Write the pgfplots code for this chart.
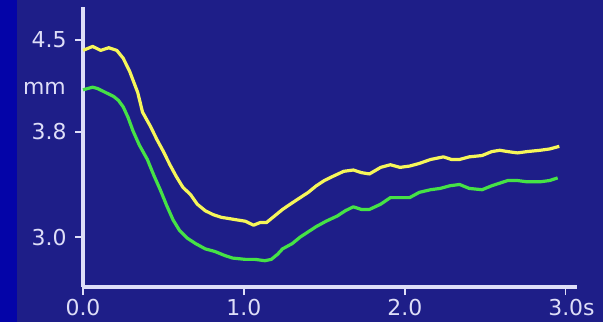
\documentclass[border=0pt]{standalone}
\usepackage{fontspec}
\setmainfont{DejaVu Sans}
\usepackage{pgfplots}
\pgfplotsset{compat=1.18}
\usepackage{pgfplotstable}

\definecolor{bgnavy}{RGB}{30,30,136}
\definecolor{stripblue}{RGB}{4,4,168}
\definecolor{axiswhite}{RGB}{222,222,248}
\definecolor{traceyellow}{RGB}{246,246,90}
\definecolor{tracegreen}{RGB}{70,226,70}

% time (s) and diameter (mm)
\pgfplotstableread{
t     d
0.00  4.42
0.06  4.45
0.11  4.42
0.16  4.44
0.21  4.42
0.25  4.36
0.29  4.26
0.34  4.10
0.37  3.95
0.42  3.84
0.46  3.74
0.50  3.65
0.54  3.55
0.58  3.46
0.62  3.38
0.67  3.32
0.71  3.25
0.76  3.20
0.81  3.17
0.86  3.15
0.91  3.14
0.96  3.13
1.01  3.12
1.06  3.09
1.10  3.11
1.14  3.11
1.19  3.16
1.24  3.21
1.30  3.26
1.35  3.30
1.40  3.34
1.45  3.39
1.50  3.43
1.55  3.46
1.62  3.50
1.68  3.51
1.73  3.49
1.78  3.48
1.85  3.53
1.91  3.55
1.97  3.53
2.03  3.54
2.09  3.56
2.16  3.59
2.24  3.61
2.29  3.59
2.34  3.59
2.40  3.61
2.48  3.62
2.54  3.65
2.59  3.66
2.64  3.65
2.70  3.64
2.76  3.65
2.84  3.66
2.90  3.67
2.96  3.69
}\uppertrace

\pgfplotstableread{
t     d
0.00  4.12
0.06  4.14
0.09  4.13
0.14  4.10
0.19  4.07
0.22  4.04
0.25  3.99
0.28  3.91
0.31  3.81
0.35  3.70
0.40  3.59
0.44  3.47
0.48  3.36
0.52  3.24
0.56  3.13
0.60  3.05
0.65  2.99
0.70  2.95
0.76  2.91
0.82  2.89
0.88  2.86
0.93  2.84
1.01  2.83
1.07  2.83
1.13  2.82
1.17  2.83
1.21  2.87
1.24  2.91
1.30  2.95
1.35  3.00
1.40  3.04
1.45  3.08
1.51  3.12
1.58  3.16
1.63  3.20
1.68  3.23
1.73  3.21
1.78  3.21
1.85  3.25
1.91  3.30
1.97  3.30
2.03  3.30
2.09  3.34
2.16  3.36
2.22  3.37
2.28  3.39
2.34  3.40
2.40  3.37
2.48  3.36
2.54  3.39
2.59  3.41
2.64  3.43
2.70  3.43
2.76  3.42
2.84  3.42
2.90  3.43
2.95  3.45
}\lowertrace

\begin{document}
\begin{tikzpicture}
% backdrop
\fill[bgnavy] (0,0) rectangle (603bp,322bp);
\fill[stripblue] (0,0) rectangle (17bp,322bp);
\begin{axis}[
  at={(83bp,35bp)}, anchor=south west,
  scale only axis, width=494bp, height=280bp,
  xmin=0, xmax=3.07, ymin=2.62, ymax=4.75,
  clip=false,
  axis x line=bottom, axis y line=left,
  axis line style={draw=axiswhite, line width=3.4bp, -},
  xtick style={draw=axiswhite, line width=1.4bp},
  xtick align=outside, major tick length=8bp,
  xtick={0,1,2,3}, xticklabels={0.0,1.0,2.0,{3.0\rlap{s}}},
  ytick={3.0,3.8,4.5}, yticklabels={3.0,3.8,4.5},
  ytick style={draw=none},
  /pgf/number format/assume math mode=true,
  ticklabel style={font=\fontsize{22}{24}\selectfont, text=axiswhite},
  yticklabel style={xshift=-9bp},
  xticklabel style={yshift=-1bp},
]
\addplot[traceyellow, line width=3.2bp, line join=round] table[x=t,y=d] {\uppertrace};
\addplot[tracegreen, line width=3.2bp, line join=round] table[x=t,y=d] {\lowertrace};
% short tick dashes left of the y axis
\draw[axiswhite, line width=1.6bp] ([xshift=-1.5bp]axis cs:0,3.0) -- ([xshift=-7.5bp]axis cs:0,3.0);
\draw[axiswhite, line width=1.6bp] ([xshift=-1.5bp]axis cs:0,3.8) -- ([xshift=-7.5bp]axis cs:0,3.8);
\draw[axiswhite, line width=1.6bp] ([xshift=-1.5bp]axis cs:0,4.5) -- ([xshift=-7.5bp]axis cs:0,4.5);
\node[anchor=east, text=axiswhite, font=\fontsize{22}{24}\selectfont, inner sep=0pt]
  at ([xshift=-17bp]axis cs:0,4.13) {mm};
\end{axis}
\pgfresetboundingbox
\useasboundingbox (0,0) rectangle (603bp,322bp);
\end{tikzpicture}
\end{document}
